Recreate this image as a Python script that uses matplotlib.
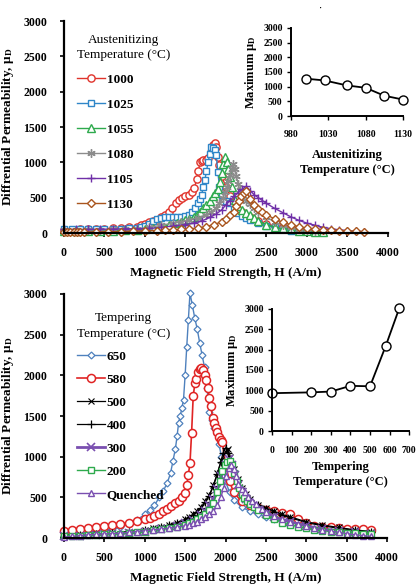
import numpy as np
import matplotlib
matplotlib.use("Agg")
import matplotlib.pyplot as plt

plt.rcParams['font.family'] = ['Liberation Serif', 'DejaVu Serif']
plt.rcParams['mathtext.fontset'] = 'custom'
plt.rcParams['mathtext.rm'] = 'Liberation Serif'
plt.rcParams['mathtext.bf'] = 'Liberation Serif:bold'
plt.rcParams['mathtext.it'] = 'Liberation Serif:italic'

# ---------------- top panel: austenitizing temperature ----------------
h_1000 = [0, 100, 200, 300, 400, 500, 600, 700, 800, 900, 950, 1000, 1050, 1100, 1150, 1200, 1250, 1300,
          1340, 1380, 1420, 1460, 1500, 1540, 1580, 1610, 1640, 1660, 1680, 1700, 1720, 1750, 1780, 1810,
          1840, 1860, 1880, 1900, 1920, 1950, 2000, 2050, 2100, 2200, 2300, 2400, 2500, 2600, 2700, 2800,
          2900, 3000]
mu_1000 = [40, 45, 50, 55, 60, 60, 65, 70, 80, 90, 110, 130, 150, 170, 190, 220, 260, 300,
           360, 420, 470, 500, 520, 540, 580, 640, 760, 880, 1000, 1020, 1030, 1040, 1060, 1150,
           1250, 1270, 1220, 1080, 960, 800, 650, 520, 420, 300, 220, 170, 130, 100, 80, 65,
           55, 45]

h_1025 = [0, 100, 200, 300, 400, 500, 600, 700, 800, 900, 950, 1000, 1050, 1100, 1150, 1200, 1250, 1300,
          1350, 1400, 1450, 1500, 1540, 1580, 1620, 1650, 1680, 1700, 1720, 1740, 1760, 1780, 1800, 1820,
          1840, 1860, 1880, 1900, 1920, 1950, 2000, 2050, 2100, 2150, 2200, 2250, 2300, 2400, 2500, 2600,
          2700, 2800, 2900, 3000]
mu_1025 = [55, 55, 55, 55, 55, 55, 60, 60, 65, 75, 85, 100, 130, 170, 200, 215, 220, 220,
           220, 220, 225, 235, 260, 300, 350, 420, 480, 540, 650, 750, 880, 1000, 1120, 1220,
           1200, 1180, 1110, 870, 650, 540, 460, 420, 340, 280, 240, 210, 190, 140, 100, 80,
           50, 35, 30, 25]

h_1055 = [0, 150, 300, 450, 600, 750, 900, 1000, 1100, 1200, 1300, 1400, 1450, 1500, 1550, 1600, 1640,
          1680, 1720, 1760, 1800, 1840, 1870, 1900, 1930, 1950, 1970, 1990, 2010, 2030, 2050, 2080,
          2110, 2150, 2200, 2250, 2300, 2350, 2400, 2500, 2600, 2700, 2800, 2900, 3000, 3100, 3200]
mu_1055 = [30, 30, 30, 30, 35, 40, 45, 55, 70, 90, 110, 140, 160, 180, 200, 220, 250,
           300, 350, 400, 460, 520, 560, 620, 720, 850, 980, 1070, 1000, 900, 790, 650,
           470, 380, 320, 290, 260, 210, 170, 120, 85, 65, 50, 35, 25, 20, 15]

h_1080 = [0, 150, 300, 450, 600, 750, 900, 1050, 1200, 1350, 1450, 1550, 1650, 1750, 1820, 1880, 1920,
          1960, 1990, 2010, 2030, 2050, 2070, 2090, 2110, 2130, 2150, 2170, 2200, 2250, 2300, 2350,
          2400, 2500, 2600, 2700, 2800, 2900, 3000, 3100]
mu_1080 = [40, 40, 45, 45, 50, 55, 60, 80, 110, 140, 160, 185, 210, 260, 300, 360, 420,
           500, 580, 650, 740, 820, 900, 970, 900, 800, 700, 610, 540, 460, 410, 350,
           300, 220, 160, 110, 80, 55, 40, 30]

h_1105 = [0, 150, 300, 450, 600, 750, 900, 1050, 1200, 1350, 1500, 1600, 1700, 1800, 1880, 1950, 2000,
          2050, 2100, 2150, 2200, 2250, 2300, 2350, 2400, 2450, 2500, 2600, 2700, 2800, 2900, 3000,
          3100, 3200, 3300, 3400, 3500, 3600, 3700]
mu_1105 = [50, 50, 50, 55, 55, 60, 60, 65, 80, 100, 120, 140, 170, 220, 270, 330, 400,
           460, 520, 570, 620, 660, 600, 540, 500, 460, 420, 350, 290, 230, 180, 140,
           110, 80, 60, 45, 35, 25, 20]

h_1130 = [0, 40, 80, 120, 160, 200, 250, 400, 550, 700, 850, 1000, 1150, 1250, 1350, 1450, 1550, 1650,
          1750, 1850, 1950, 2000, 2050, 2100, 2130, 2160, 2190, 2220, 2250, 2300, 2350, 2400, 2450,
          2500, 2600, 2700, 2800, 2900, 3000, 3100, 3200, 3300, 3400, 3500, 3600, 3700]
mu_1130 = [10, 10, 10, 10, 10, 10, 15, 15, 20, 20, 25, 30, 35, 40, 45, 50, 60, 70,
           90, 120, 160, 200, 250, 300, 380, 450, 520, 570, 590, 480, 390, 340, 300,
           260, 200, 150, 120, 90, 65, 55, 45, 38, 32, 28, 22, 18]

aus_temps = [1000, 1025, 1055, 1080, 1105, 1130]
aus_max = [1270, 1210, 1040, 960, 690, 560]
aus_labels = ['1000', '1025', '1055', '1080', '1105', '1130']

# ---------------- bottom panel: tempering temperature ----------------
h_650 = [0, 100, 200, 300, 400, 500, 600, 700, 800, 900, 1000, 1060, 1120, 1180, 1230, 1280, 1320, 1350,
         1380, 1400, 1420, 1440, 1460, 1480, 1500, 1520, 1540, 1560, 1590, 1620, 1650, 1680, 1710, 1740,
         1770, 1800, 1830, 1860, 1890, 1920, 1950, 1980, 2000, 2050, 2100, 2200, 2300, 2400, 2500, 2600,
         2800, 3000, 3200, 3400, 3600, 3800]
mu_650 = [40, 50, 60, 70, 80, 95, 110, 130, 170, 220, 290, 340, 400, 500, 580, 680, 800, 950,
          1100, 1250, 1420, 1500, 1600, 1700, 2000, 2350, 2680, 3010, 2860, 2700, 2570, 2400, 2250, 2100,
          1850, 1550, 1450, 1350, 1280, 1150, 1000, 850, 700, 560, 470, 380, 330, 290, 260, 230,
          190, 160, 140, 120, 100, 80]

h_580 = [0, 100, 200, 300, 400, 500, 600, 700, 800, 900, 1000, 1060, 1120, 1180, 1230, 1280, 1330, 1380,
         1420, 1460, 1500, 1520, 1540, 1560, 1580, 1600, 1620, 1640, 1660, 1680, 1700, 1720, 1740, 1760,
         1780, 1800, 1820, 1840, 1860, 1880, 1900, 1920, 1940, 1960, 2000, 2050, 2100, 2200, 2300, 2400,
         2500, 2600, 2700, 2800, 2900, 3000, 3100, 3200, 3300, 3400, 3500, 3600, 3700, 3800]
mu_580 = [90, 100, 110, 120, 130, 145, 160, 175, 190, 210, 230, 250, 270, 300, 330, 360, 390, 430,
          460, 500, 550, 650, 780, 920, 1290, 1740, 1900, 1960, 2040, 2080, 2090, 2060, 2000, 1940,
          1840, 1720, 1620, 1480, 1420, 1350, 1300, 1240, 1200, 1180, 900, 700, 560, 450, 400, 370,
          345, 330, 310, 290, 230, 190, 150, 140, 130, 120, 115, 110, 105, 100]

h_500 = [0, 200, 400, 600, 800, 1000, 1100, 1200, 1300, 1400, 1500, 1550, 1600, 1650, 1700, 1750, 1800,
         1850, 1900, 1950, 2000, 2030, 2060, 2100, 2150, 2200, 2250, 2300, 2400, 2500, 2600, 2700, 2800,
         3000, 3200, 3400, 3600, 3800]
mu_500 = [30, 40, 50, 60, 80, 100, 120, 140, 160, 190, 230, 260, 290, 330, 380, 450, 530,
          650, 800, 960, 1060, 1100, 1000, 850, 720, 620, 540, 480, 410, 370, 330, 290, 260,
          200, 160, 130, 100, 80]

h_400 = [0, 200, 400, 600, 800, 1000, 1100, 1200, 1300, 1400, 1500, 1550, 1600, 1650, 1700, 1750, 1800,
         1850, 1900, 1940, 1970, 2000, 2030, 2060, 2100, 2150, 2200, 2250, 2300, 2400, 2500, 2600, 2700,
         2800, 3000, 3200, 3400, 3600, 3800]
mu_400 = [30, 40, 50, 60, 75, 95, 115, 135, 155, 185, 220, 250, 280, 320, 370, 440, 520,
          640, 790, 930, 1050, 1110, 1050, 950, 830, 710, 610, 530, 470, 400, 360, 320, 280,
          250, 190, 150, 120, 95, 75]

h_300 = [0, 200, 400, 600, 800, 1000, 1200, 1400, 1500, 1600, 1700, 1750, 1800, 1850, 1900, 1950, 2000,
         2040, 2080, 2120, 2160, 2200, 2250, 2300, 2400, 2500, 2600, 2800, 3000, 3200, 3400, 3600, 3800]
mu_300 = [20, 30, 40, 50, 60, 80, 110, 150, 180, 220, 280, 330, 400, 480, 600, 760, 900,
          970, 900, 780, 650, 560, 480, 420, 350, 300, 260, 200, 150, 110, 90, 70, 50]

h_200 = [0, 100, 200, 300, 400, 500, 600, 700, 800, 900, 1000, 1100, 1200, 1300, 1400, 1500, 1550, 1600,
         1650, 1700, 1750, 1800, 1850, 1900, 1930, 1960, 1990, 2020, 2050, 2080, 2110, 2140, 2170, 2200,
         2230, 2260, 2300, 2350, 2400, 2500, 2600, 2700, 2800, 2900, 3000, 3100, 3200, 3300, 3400, 3500,
         3600, 3700, 3800]
mu_200 = [20, 25, 30, 35, 40, 45, 50, 55, 60, 70, 80, 95, 110, 125, 140, 160, 180, 200,
          230, 260, 300, 350, 430, 560, 700, 820, 900, 940, 950, 900, 800, 700, 610, 540,
          490, 460, 420, 380, 340, 280, 230, 190, 160, 140, 120, 100, 90, 80, 70, 65,
          60, 55, 50]

h_q = [0, 100, 200, 300, 400, 500, 600, 700, 800, 900, 1000, 1100, 1200, 1300, 1400, 1500, 1550, 1600,
       1650, 1700, 1750, 1800, 1850, 1900, 1940, 1980, 2010, 2040, 2070, 2100, 2130, 2160, 2200, 2240,
       2280, 2330, 2380, 2450, 2500, 2600, 2700, 2800, 2900, 3000, 3100, 3200, 3300, 3400, 3500, 3600,
       3700, 3800]
mu_q = [10, 20, 30, 40, 45, 50, 55, 60, 70, 80, 90, 100, 110, 120, 135, 150, 160, 180,
        200, 230, 260, 290, 330, 400, 500, 620, 760, 860, 900, 850, 760, 670, 600, 560,
        500, 450, 420, 360, 320, 270, 230, 200, 170, 150, 120, 100, 85, 70, 55, 40,
        30, 20]

tem_temps = [0, 200, 300, 400, 500, 580, 650]
tem_max = [930, 950, 970, 1110, 1100, 2090, 3030]
tem_labels = ['650', '580', '500', '400', '300', '200', 'Quenched']

# ---------------- figure ----------------
fig = plt.figure(figsize=(4.18, 5.88), dpi=100)

ylab = 'Diffrential Permeability, \u03bc$_\\mathbf{D}$'
xlab = 'Magnetic Field Strength, H (A/m)'


def style_main(ax):
    for s in ['top', 'right']:
        ax.spines[s].set_visible(False)
    for s in ['left', 'bottom']:
        ax.spines[s].set_linewidth(1.6)
    ax.set_xlim(0, 4000)
    ax.set_ylim(0, 3000)
    ax.set_xticks(range(0, 4001, 500))
    ax.set_yticks(range(0, 3001, 500))
    ax.tick_params(direction='out', length=3, width=1.2, labelsize=8.5)
    ax.tick_params(axis='y', pad=9)
    ax.tick_params(axis='x', pad=7)
    for t in ax.get_xticklabels() + ax.get_yticklabels():
        t.set_fontweight('bold')
    ax.set_ylabel(ylab, fontsize=9.5, fontweight='bold', labelpad=5)
    ax.set_xlabel(xlab, fontsize=9.5, fontweight='bold', labelpad=6)


def style_inset(ax):
    for s in ['top', 'right']:
        ax.spines[s].set_visible(False)
    for s in ['left', 'bottom']:
        ax.spines[s].set_linewidth(1.4)
    ax.tick_params(direction='out', length=3, width=1.0, labelsize=7, pad=3)
    for t in ax.get_xticklabels() + ax.get_yticklabels():
        t.set_fontweight('bold')
    ax.set_ylabel('Maximum \u03bc$_\\mathbf{D}$', fontsize=9, fontweight='bold', labelpad=3)


# top main
ax1 = fig.add_axes([0.153, 0.6037, 0.775, 0.3605])
mfc = 'white'
kw = dict(clip_on=False)
ax1.plot(h_1000, mu_1000, color='#e0332b', marker='o', ms=5.2, mfc=mfc, mew=1.0, lw=1.0, label=aus_labels[0], **kw)
ax1.plot(h_1025, mu_1025, color='#2f86c8', marker='s', ms=5.0, mfc=mfc, mew=1.0, lw=1.0, label=aus_labels[1], **kw)
ax1.plot(h_1055, mu_1055, color='#2eaa4d', marker='^', ms=5.5, mfc=mfc, mew=1.0, lw=1.0, label=aus_labels[2], **kw)
ax1.plot(h_1080, mu_1080, color='#8c8c8c', marker=(6, 2, 0), ms=6, mew=1.0, lw=1.0, label=aus_labels[3], **kw)
ax1.plot(h_1105, mu_1105, color='#7030a8', marker='+', ms=6, mew=1.0, lw=1.0, label=aus_labels[4], **kw)
ax1.plot(h_1130, mu_1130, color='#a9551e', marker='D', ms=4.5, mfc=mfc, mew=1.0, lw=1.0, label=aus_labels[5], **kw)
style_main(ax1)
leg1 = ax1.legend(title='Austenitizing\nTemperature (\u00b0C)', loc='upper left',
                  bbox_to_anchor=(0.02, 0.97), frameon=False, prop={'weight': 'bold', 'size': 9.5},
                  title_fontsize=9.5, handlelength=2.1, handletextpad=0.15, labelspacing=0.97,
                  borderpad=0, alignment='left')
leg1.get_title().set_multialignment('center')
leg1.get_title().set_linespacing(1.3)

# top inset
ax2 = fig.add_axes([0.696, 0.8027, 0.268, 0.150])
ax2.plot(aus_temps, aus_max, color='black', marker='o', ms=6.5, mfc='white', mew=1.0, lw=1.3, clip_on=False)
ax2.set_xlim(980, 1130)
ax2.set_ylim(0, 3000)
ax2.set_xticks([980, 1030, 1080, 1130])
ax2.set_yticks(range(0, 3001, 500))
style_inset(ax2)
ax2.tick_params(axis='x', pad=7)
ax2.set_xlabel('Austenitizing\nTemperature (\u00b0C)', fontsize=9, fontweight='bold', labelpad=7,
               linespacing=1.35)

# bottom main
ax3 = fig.add_axes([0.153, 0.085, 0.773, 0.415])
ax3.plot(h_650, mu_650, color='#4f81bd', marker='D', ms=3.5, mfc=mfc, mew=0.9, lw=1.0, label=tem_labels[0], **kw)
ax3.plot(h_580, mu_580, color='#e02424', marker='o', ms=5.8, mfc=mfc, mew=1.1, lw=1.2, label=tem_labels[1], **kw)
ax3.plot(h_500, mu_500, color='black', marker='x', ms=4, mew=0.8, lw=0.9, label=tem_labels[2], **kw)
ax3.plot(h_400, mu_400, color='black', marker='+', ms=6, mew=0.9, lw=0.9, label=tem_labels[3], **kw)
ax3.plot(h_300, mu_300, color='#7a4fb0', marker='x', ms=6, mew=1.2, lw=2.0, label=tem_labels[4], **kw)
ax3.plot(h_200, mu_200, color='#2eaa4d', marker='s', ms=4.5, mfc=mfc, mew=1.0, lw=1.0, label=tem_labels[5], **kw)
ax3.plot(h_q, mu_q, color='#7a4fb0', marker='^', ms=5, mfc=mfc, mew=1.0, lw=1.0, label=tem_labels[6], **kw)
style_main(ax3)
leg3 = ax3.legend(title='Tempering\nTemperature (\u00b0C)', loc='upper left',
                  bbox_to_anchor=(0.02, 0.955), frameon=False, prop={'weight': 'bold', 'size': 9.5},
                  title_fontsize=9.5, handlelength=2.1, handletextpad=0.15, labelspacing=0.82,
                  borderpad=0, alignment='left')
leg3.get_title().set_multialignment('center')
leg3.get_title().set_linespacing(1.45)

# bottom inset
ax4 = fig.add_axes([0.651, 0.267, 0.328, 0.2075])
ax4.plot(tem_temps, tem_max, color='black', marker='o', ms=6.5, mfc='white', mew=1.0, lw=1.3, clip_on=False)
ax4.set_xlim(0, 700)
ax4.set_ylim(0, 3000)
ax4.set_xticks(range(0, 701, 100))
ax4.set_yticks(range(0, 3001, 500))
style_inset(ax4)
ax4.tick_params(axis='x', pad=8)
ax4.set_xlabel('Tempering\nTemperature (\u00b0C)', fontsize=9, fontweight='bold', labelpad=4,
               linespacing=1.35)

fig.text(0.768, 0.984, "''", fontsize=5, ha='center', va='center')

fig.savefig('out.png', dpi=100)
